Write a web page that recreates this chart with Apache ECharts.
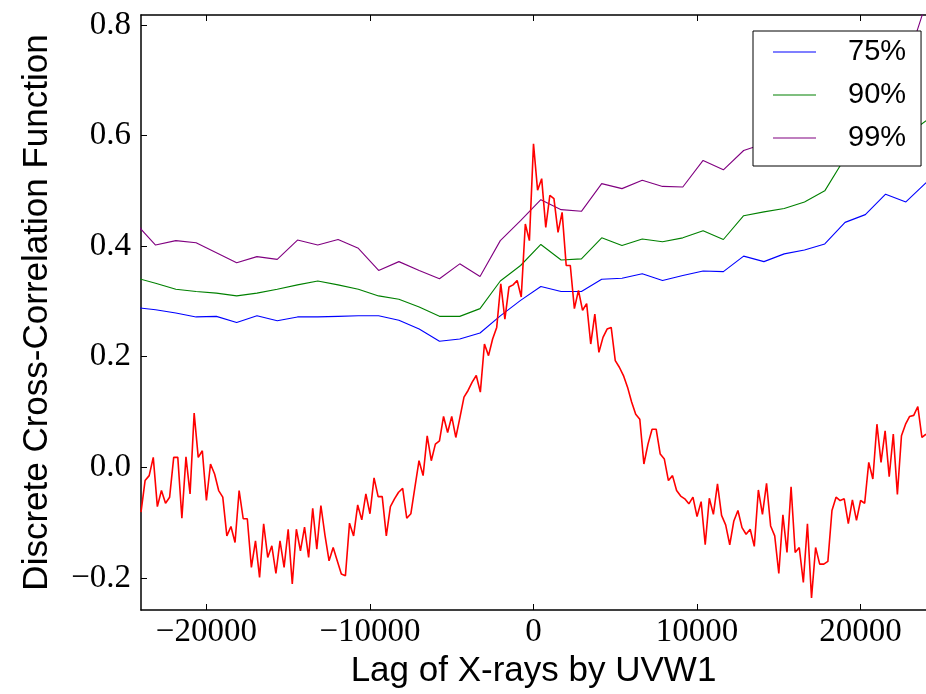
<!DOCTYPE html>
<html>
<head>
<meta charset="utf-8">
<title>Discrete Cross-Correlation Function</title>
<script src="https://cdn.jsdelivr.net/npm/echarts@6/dist/echarts.min.js"></script>
<style>
  html, body { margin: 0; padding: 0; background: #fff; }
  #chart { width: 926px; height: 694px; }
</style>
</head>
<body>
<div id="chart"></div>
<script>
  // DCF, one value every 250 s starting at -24000
  const dcfStart = -24000
  const dcfStep = 250
  const dcfValues = [
    -0.081, -0.024, -0.015, 0.018, -0.071, -0.042, -0.065, -0.054, 0.018, 0.018,
    -0.092, 0.019, -0.048, 0.098, 0.018, 0.030, -0.060, 0.006, -0.012, -0.042,
    -0.054, -0.124, -0.107, -0.136, -0.042, -0.093, -0.093, -0.181, -0.133, -0.199,
    -0.102, -0.163, -0.142, -0.192, -0.133, -0.181, -0.112, -0.211, -0.112, -0.151,
    -0.108, -0.163, -0.074, -0.148, -0.069, -0.123, -0.169, -0.145, -0.169, -0.193,
    -0.196, -0.101, -0.124, -0.068, -0.095, -0.048, -0.084, -0.019, -0.053, -0.053,
    -0.124, -0.071, -0.057, -0.045, -0.038, -0.092, -0.084, -0.036, 0.012, -0.015,
    0.057, 0.012, 0.042, 0.048, 0.092, 0.063, 0.092, 0.054, 0.090, 0.127,
    0.139, 0.154, 0.166, 0.136, 0.223, 0.202, 0.232, 0.253, 0.332, 0.268,
    0.326, 0.330, 0.338, 0.308, 0.440, 0.410, 0.585, 0.501, 0.522, 0.434,
    0.492, 0.486, 0.425, 0.461, 0.365, 0.365, 0.287, 0.320, 0.284, 0.296,
    0.223, 0.277, 0.208, 0.235, 0.250, 0.253, 0.193, 0.181, 0.166, 0.145,
    0.118, 0.096, 0.087, 0.006, 0.042, 0.069, 0.069, 0.024, 0.015, -0.024,
    -0.015, -0.042, -0.052, -0.057, -0.066, -0.054, -0.089, -0.062, -0.140, -0.056,
    -0.085, -0.030, -0.087, -0.104, -0.140, -0.097, -0.078, -0.109, -0.121, -0.112,
    -0.143, -0.041, -0.085, -0.029, -0.106, -0.124, -0.192, -0.086, -0.154, -0.035,
    -0.154, -0.145, -0.208, -0.102, -0.236, -0.145, -0.175, -0.175, -0.170, -0.078,
    -0.054, -0.060, -0.057, -0.102, -0.059, -0.096, -0.060, -0.065, 0.009, -0.021,
    0.078, 0.009, 0.066, -0.017, 0.060, -0.049, 0.057, 0.078, 0.092, 0.094,
    0.110, 0.054, 0.060
  ]

  // significance levels, coarser lag grid
  const sigLags = [
    -24350, -23110, -21870, -20630, -19390, -18150, -16910, -15670, -14430, -13190,
    -11950, -10710, -9470, -8230, -6990, -5750, -4510, -3270, -2030, -790,
    450, 1690, 2930, 4170, 5410, 6650, 7890, 9130, 10370, 11610,
    12850, 14090, 15330, 16570, 17810, 19050, 20290, 21530, 22770, 24010
  ]
  const sig75 = [
    0.289, 0.285, 0.279, 0.272, 0.273, 0.262, 0.274, 0.265, 0.272, 0.272,
    0.273, 0.274, 0.274, 0.266, 0.250, 0.228, 0.232, 0.243, 0.274, 0.302,
    0.327, 0.318, 0.318, 0.340, 0.342, 0.350, 0.338, 0.347, 0.355, 0.354,
    0.382, 0.372, 0.386, 0.393, 0.404, 0.443, 0.457, 0.494, 0.480, 0.515
  ]
  const sig90 = [
    0.343, 0.333, 0.322, 0.318, 0.315, 0.310, 0.315, 0.322, 0.330, 0.337,
    0.330, 0.322, 0.310, 0.304, 0.290, 0.273, 0.273, 0.287, 0.337, 0.365,
    0.403, 0.375, 0.377, 0.415, 0.401, 0.413, 0.408, 0.415, 0.428, 0.412,
    0.455, 0.462, 0.468, 0.480, 0.500, 0.560, 0.570, 0.580, 0.600, 0.627
  ]
  const sig99 = [
    0.442, 0.402, 0.410, 0.406, 0.388, 0.370, 0.381, 0.376, 0.411, 0.402,
    0.412, 0.396, 0.356, 0.372, 0.356, 0.341, 0.368, 0.345, 0.410, 0.446,
    0.484, 0.466, 0.463, 0.513, 0.504, 0.519, 0.508, 0.507, 0.555, 0.538,
    0.573, 0.585, 0.600, 0.620, 0.640, 0.660, 0.690, 0.710, 0.727, 0.840
  ]

  const xTicks = [-20000, -10000, 0, 10000, 20000]
  const yTicks = [-0.2, 0, 0.2, 0.4, 0.6, 0.8]

  const pair = (xs, ys) => ys.map((y, i) => [xs[i], y])
  const dcfData = dcfValues.map((v, i) => [dcfStart + i * dcfStep, v])

  const minus = s => s.replace('-', '\u2212')
  const tickFont = { fontFamily: 'Liberation Serif', fontSize: 33, color: '#000' }
  const nameFont = { fontFamily: 'Liberation Sans', fontSize: 35, color: '#000' }
  const spine = { show: true, onZero: false, lineStyle: { color: '#000', width: 1.5 } }
  const ticksIn = { show: true, inside: true, length: 6, lineStyle: { color: '#000', width: 1 } }

  const chart = echarts.init(document.getElementById('chart'), null, { renderer: 'canvas' })

  chart.setOption({
    animation: false,
    color: ['#0000ff', '#008000', '#800080', '#ff0000'],
    grid: { left: 141, top: 15, width: 790, height: 595 },
    legend: {
      data: ['75%', '90%', '99%'],
      orient: 'vertical',
      left: 753,
      top: 31,
      padding: [4, 15, 11, 20],
      itemGap: 9,
      itemWidth: 43,
      itemHeight: 1.2,
      icon: 'rect',
      selectedMode: false,
      backgroundColor: '#fff',
      borderColor: '#000',
      borderWidth: 1,
      borderRadius: 0,
      textStyle: {
        fontFamily: 'Liberation Sans', fontSize: 29, color: '#000',
        lineHeight: 34, padding: [0, 0, 0, 27]
      }
    },
    xAxis: [{
      type: 'value',
      position: 'bottom',
      min: -24000,
      max: 24000,
      name: 'Lag of X-rays by UVW1',
      nameLocation: 'middle',
      nameGap: 38,
      nameTextStyle: nameFont,
      axisLine: spine,
      axisTick: Object.assign({ customValues: xTicks }, ticksIn),
      axisLabel: Object.assign({
        customValues: xTicks,
        margin: 6,
        formatter: v => minus(String(v))
      }, tickFont),
      splitLine: { show: false }
    }, {
      type: 'value',
      position: 'top',
      min: -24000,
      max: 24000,
      axisLine: spine,
      axisTick: Object.assign({ customValues: xTicks }, ticksIn),
      axisLabel: { show: false },
      splitLine: { show: false }
    }],
    yAxis: [{
      type: 'value',
      position: 'left',
      min: -0.258,
      max: 0.818,
      name: 'Discrete Cross-Correlation Function',
      nameLocation: 'middle',
      nameGap: 86,
      nameRotate: 90,
      nameTextStyle: nameFont,
      axisLine: spine,
      axisTick: Object.assign({ customValues: yTicks }, ticksIn),
      axisLabel: Object.assign({
        customValues: yTicks,
        margin: 10,
        formatter: v => minus(v.toFixed(1))
      }, tickFont),
      splitLine: { show: false }
    }],
    series: [{
      name: '75%',
      type: 'line',
      data: pair(sigLags, sig75),
      showSymbol: false,
      symbol: 'none',
      lineStyle: { color: '#0000ff', width: 1.1 },
      itemStyle: { color: '#0000ff' }
    }, {
      name: '90%',
      type: 'line',
      data: pair(sigLags, sig90),
      showSymbol: false,
      symbol: 'none',
      lineStyle: { color: '#008000', width: 1.1 },
      itemStyle: { color: '#008000' }
    }, {
      name: '99%',
      type: 'line',
      data: pair(sigLags, sig99),
      showSymbol: false,
      symbol: 'none',
      lineStyle: { color: '#800080', width: 1.1 },
      itemStyle: { color: '#800080' }
    }, {
      name: 'DCF',
      type: 'line',
      data: dcfData,
      showSymbol: false,
      symbol: 'none',
      lineStyle: { color: '#ff0000', width: 1.6 },
      itemStyle: { color: '#ff0000' }
    }]
  })
</script>
</body>
</html>
